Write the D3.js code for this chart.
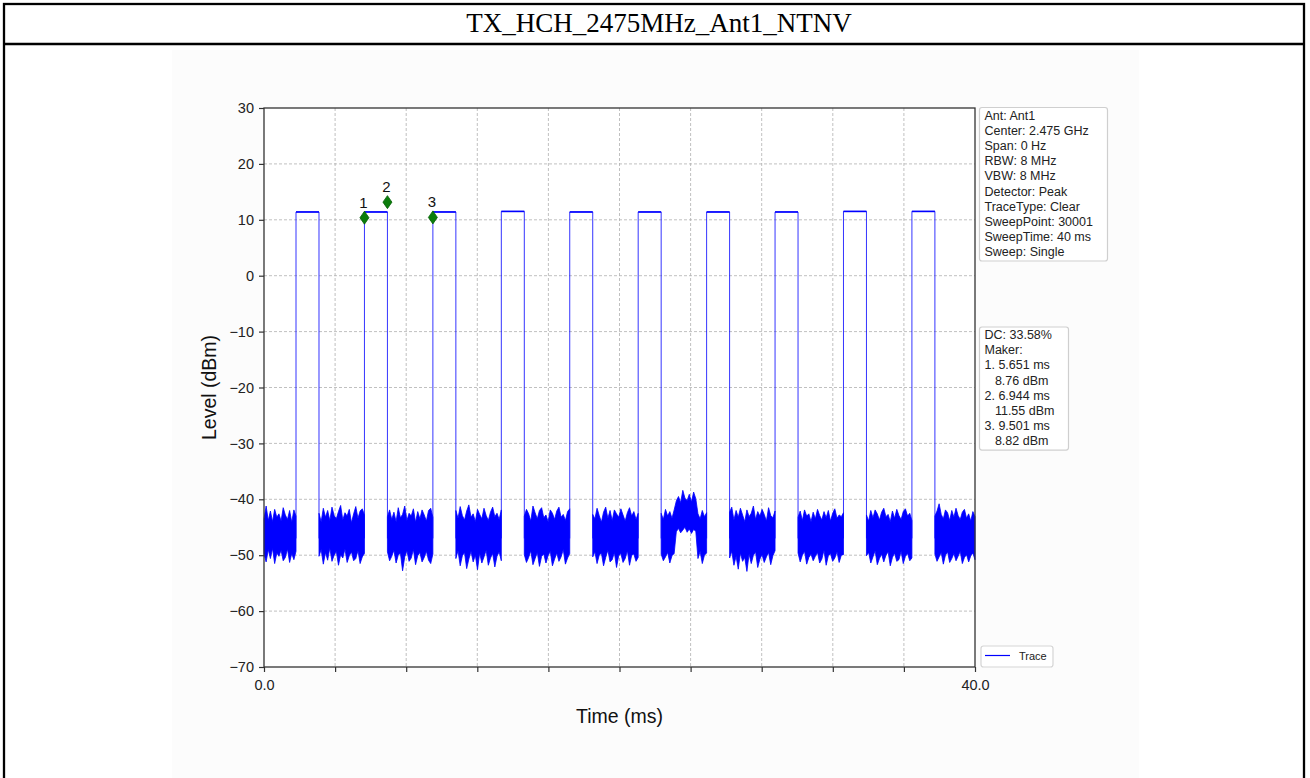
<!DOCTYPE html>
<html>
<head>
<meta charset="utf-8">
<script src="https://cdn.jsdelivr.net/npm/d3@7"></script>
<style>
  body { margin: 0; background: #fff; }
  svg { display: block; }
</style>
</head>
<body>
<script>
// ---- data ----
var chartTitle = "TX_HCH_2475MHz_Ant1_NTNV";
var xTicks = [0, 4, 8, 12, 16, 20, 24, 28, 32, 36, 40];
var xTickLabels = ["0.0", "", "", "", "", "", "", "", "", "", "40.0"];
var yTicks = [-70, -60, -50, -40, -30, -20, -10, 0, 10, 20, 30];

// burst rising edges (ms), burst length (ms), top level (dBm)
var pulseStart = [1.801, 5.651, 9.501, 13.351, 17.201, 21.051, 24.901, 28.751, 32.601, 36.451];
var pulseWidth = 1.293;
var pulseTop = [11.4, 11.4, 11.4, 11.5, 11.4, 11.4, 11.4, 11.4, 11.5, 11.5];

// noise floor envelope between bursts, upper / lower (dBm), one list per gap
var noiseHi = [
  [-43.5,-41.2,-43.8,-42.1,-44.0,-41.8,-43.2,-42.6,-43.9,-41.5,-42.8,-43.6,-42.0,-44.1,-41.9,-43.0],
  [-42.5,-44.0,-41.6,-43.2,-42.0,-43.8,-41.4,-42.9,-43.5,-42.2,-41.1,-43.7,-42.4,-43.0,-41.8,-44.2,-42.6,-41.3,-43.4,-42.1,-41.7,-42.8],
  [-43.1,-41.9,-43.6,-42.3,-44.0,-41.5,-43.3,-42.7,-41.2,-43.8,-42.5,-43.0,-41.7,-44.1,-42.2,-43.5,-41.9,-42.8,-43.9,-42.0,-41.6,-43.2],
  [-42.0,-43.4,-41.3,-42.9,-43.7,-42.1,-41.0,-43.2,-42.6,-44.0,-41.8,-42.7,-43.5,-41.6,-42.9,-43.8,-42.3,-41.4,-43.1,-42.5,-43.6,-41.9],
  [-43.0,-41.8,-42.6,-43.9,-41.2,-42.4,-43.5,-42.0,-41.5,-43.3,-42.8,-44.0,-41.9,-42.5,-43.6,-42.1,-41.4,-43.2,-42.7,-43.8,-42.2,-41.7],
  [-42.7,-43.5,-41.6,-42.9,-44.1,-42.3,-41.4,-43.4,-42.0,-43.8,-41.9,-42.6,-43.2,-41.7,-42.8,-43.9,-42.4,-41.5,-43.0,-42.2,-43.6,-42.5],
  [-42.5,-43.6,-41.8,-43.0,-42.2,-43.4,-41.9,-40.3,-39.5,-40.6,-38.4,-39.8,-40.2,-39.1,-40.5,-38.7,-39.9,-42.6,-43.5,-42.0,-43.1,-42.4],
  [-42.3,-41.4,-43.7,-42.0,-43.2,-41.6,-42.8,-44.0,-41.9,-43.1,-42.5,-41.2,-43.6,-42.2,-43.0,-41.8,-42.7,-43.9,-41.5,-42.9,-43.3,-42.1],
  [-43.2,-42.1,-43.8,-41.9,-43.0,-42.6,-44.0,-42.3,-43.5,-41.8,-42.9,-43.7,-42.2,-43.3,-42.0,-43.9,-42.5,-41.7,-43.4,-42.8,-43.1,-42.4],
  [-42.8,-43.9,-42.0,-43.3,-41.9,-42.6,-43.7,-42.3,-41.6,-43.1,-42.7,-44.0,-42.1,-43.4,-41.8,-42.9,-43.6,-42.2,-41.7,-43.0,-42.5,-43.8],
  [-43.0,-42.1,-40.8,-42.7,-43.5,-41.9,-42.4,-43.8,-42.0,-43.2,-41.6,-42.9,-43.6,-42.3,-41.8,-43.4,-42.6,-43.9,-42.2,-43.1]
];
var noiseLo = [
  [-49.8,-51.2,-49.0,-50.6,-48.8,-51.5,-49.6,-50.2,-49.1,-51.0,-50.4,-48.9,-51.3,-49.7,-50.8,-49.3],
  [-50.2,-49.0,-51.6,-49.5,-50.9,-48.7,-51.1,-50.0,-49.3,-51.8,-49.9,-50.5,-48.9,-51.3,-50.1,-49.4,-51.0,-50.6,-49.2,-51.5,-50.3,-49.7],
  [-49.4,-51.0,-50.2,-49.1,-51.4,-50.0,-49.6,-52.8,-50.3,-49.2,-51.1,-50.5,-49.0,-51.7,-50.1,-49.5,-51.2,-50.4,-49.3,-50.9,-51.5,-49.8],
  [-50.6,-49.2,-51.9,-50.1,-49.5,-52.4,-50.7,-49.3,-51.2,-50.0,-52.6,-49.6,-51.4,-50.3,-49.1,-51.8,-50.5,-49.7,-52.1,-50.2,-49.4,-51.0],
  [-49.9,-51.3,-50.4,-49.2,-51.7,-50.6,-49.5,-52.0,-50.2,-49.8,-51.4,-50.1,-49.3,-51.9,-50.7,-49.6,-51.1,-50.3,-49.0,-51.6,-50.5,-49.7],
  [-50.3,-49.4,-51.5,-50.0,-49.6,-51.9,-50.4,-49.1,-51.2,-50.8,-49.5,-52.2,-50.1,-49.7,-51.3,-50.6,-49.2,-51.8,-50.0,-49.8,-51.1,-50.4],
  [-49.8,-51.0,-50.3,-49.5,-51.4,-50.1,-49.7,-45.8,-45.2,-46.0,-45.5,-45.0,-45.9,-45.3,-46.1,-45.4,-45.7,-50.6,-49.3,-51.5,-50.0,-49.6],
  [-50.5,-49.3,-51.8,-50.2,-52.5,-49.6,-51.1,-50.4,-52.9,-49.8,-51.5,-50.0,-49.4,-52.2,-50.7,-49.9,-51.3,-50.3,-49.5,-51.7,-50.1,-49.2],
  [-49.6,-51.2,-50.0,-49.3,-51.6,-50.4,-49.8,-51.0,-50.2,-49.5,-51.4,-50.7,-49.1,-51.8,-50.1,-49.7,-51.1,-50.5,-49.4,-51.3,-50.0,-49.9],
  [-50.1,-49.5,-51.4,-50.3,-49.2,-51.7,-50.6,-49.8,-51.2,-50.0,-49.4,-51.9,-50.4,-49.6,-51.1,-50.8,-49.3,-51.5,-50.2,-49.7,-51.0,-50.5],
  [-49.8,-51.1,-50.3,-49.5,-51.6,-50.0,-49.4,-51.3,-50.6,-49.7,-51.0,-50.2,-49.3,-51.5,-50.4,-49.9,-51.2,-50.1,-49.6,-50.8]
];

// markers
var markerNames = ["1", "2", "3"];
var markerTime = [5.651, 6.944, 9.501];
var markerLevel = [8.76, 11.55, 8.82];

// info boxes
var settingsText = ["Ant: Ant1", "Center: 2.475 GHz", "Span: 0 Hz", "RBW: 8 MHz", "VBW: 8 MHz",
  "Detector: Peak", "TraceType: Clear", "SweepPoint: 30001", "SweepTime: 40 ms", "Sweep: Single"];
var markerText = ["DC: 33.58%", "Maker:", "1. 5.651 ms", "   8.76 dBm", "2. 6.944 ms",
  "   11.55 dBm", "3. 9.501 ms", "   8.82 dBm"];

// ---- drawing ----
var W = 1310, H = 778;
var pLeft = 264, pRight = 975, pTop = 108, pBottom = 667;
var sans = "'Liberation Sans', Arial, sans-serif";
var blue = "#0000ff";

var svg = d3.select("body").append("svg")
  .attr("width", W)
  .attr("height", H);

// page frame + title
svg.append("rect").attr("x", 172).attr("y", 50).attr("width", 967).attr("height", 740).attr("fill", "#fcfcfc");
svg.append("rect").attr("x", 4).attr("y", 4).attr("width", 1300).attr("height", 800)
  .attr("fill", "none").attr("stroke", "#000").attr("stroke-width", 2.3);
svg.append("line").attr("x1", 4).attr("x2", 1304).attr("y1", 44).attr("y2", 44)
  .attr("stroke", "#000").attr("stroke-width", 2.3);
svg.append("text")
  .attr("x", 659).attr("y", 32)
  .attr("text-anchor", "middle")
  .style("font-family", "'Liberation Serif', 'Times New Roman', serif")
  .style("font-size", "27px")
  .text(chartTitle);

var xScale = d3.scaleLinear().domain([0, 40]).range([pLeft, pRight]);
var yScale = d3.scaleLinear().domain([-70, 30]).range([pBottom, pTop]);

svg.append("rect").attr("x", pLeft).attr("y", pTop)
  .attr("width", pRight - pLeft).attr("height", pBottom - pTop).attr("fill", "#fff");

// grid
svg.append("g").selectAll("line").data(xTicks.slice(1, -1)).enter().append("line")
  .attr("x1", d => xScale(d)).attr("x2", d => xScale(d))
  .attr("y1", pTop).attr("y2", pBottom)
  .attr("stroke", "#b0b0b0").attr("stroke-width", 0.8).attr("stroke-dasharray", "3,2");
svg.append("g").selectAll("line").data(yTicks.slice(1, -1)).enter().append("line")
  .attr("x1", pLeft).attr("x2", pRight)
  .attr("y1", d => yScale(d)).attr("y2", d => yScale(d))
  .attr("stroke", "#b0b0b0").attr("stroke-width", 0.8).attr("stroke-dasharray", "3,2");

// noise floor between bursts
var gaps = [];
for (var i = 0; i <= pulseStart.length; i++) {
  var g0 = i === 0 ? 0 : pulseStart[i - 1] + pulseWidth;
  var g1 = i === pulseStart.length ? 40 : pulseStart[i];
  var pts = noiseHi[i].map(function(v, j) {
    var n = noiseHi[i].length - 1;
    return { t: g0 + (g1 - g0) * j / n, hi: v, lo: noiseLo[i][j] };
  });
  gaps.push(pts);
}

var area = d3.area()
  .x(d => xScale(d.t))
  .y0(d => yScale(d.lo))
  .y1(d => yScale(d.hi));

svg.append("g").selectAll("path").data(gaps).enter().append("path")
  .attr("d", area)
  .attr("fill", blue)
  .attr("stroke", blue)
  .attr("stroke-width", 0.8)
  .attr("stroke-linejoin", "miter");

// bursts
var line = d3.line().x(d => xScale(d[0])).y(d => yScale(d[1]));
var bursts = pulseStart.map(function(s, i) {
  var e = s + pulseWidth;
  return [[s, -47], [s, pulseTop[i]], [e, pulseTop[i]], [e, -47]];
});
svg.append("g").selectAll("path").data(bursts).enter().append("path")
  .attr("d", line)
  .attr("fill", "none")
  .attr("stroke", blue)
  .attr("stroke-width", 0.8);
svg.append("g").selectAll("line").data(pulseStart).enter().append("line")
  .attr("x1", d => xScale(d)).attr("x2", (d) => xScale(d + pulseWidth))
  .attr("y1", (d, i) => yScale(pulseTop[i])).attr("y2", (d, i) => yScale(pulseTop[i]))
  .attr("stroke", blue).attr("stroke-width", 1.6);

// axes
var xAxis = d3.axisBottom(xScale).tickValues(xTicks)
  .tickFormat((d, i) => xTickLabels[i]).tickSize(5).tickSizeOuter(0).tickPadding(8);
var yAxis = d3.axisLeft(yScale).tickValues(yTicks).tickSize(5).tickSizeOuter(0).tickPadding(5);

var gx = svg.append("g").attr("transform", "translate(0," + pBottom + ")").call(xAxis);
var gy = svg.append("g").attr("transform", "translate(" + pLeft + ",0)").call(yAxis);
[gx, gy].forEach(function(g) {
  g.select(".domain").remove();
  g.selectAll(".tick line").attr("stroke", "#333").attr("stroke-width", 1.2);
  g.selectAll("text").attr("fill", "#222").style("font-family", sans).style("font-size", "14.5px");
});

// frame
svg.append("rect").attr("x", pLeft).attr("y", pTop)
  .attr("width", pRight - pLeft).attr("height", pBottom - pTop)
  .attr("fill", "none").attr("stroke", "#333").attr("stroke-width", 1.3);

svg.append("text")
  .attr("x", (pLeft + pRight) / 2).attr("y", 723)
  .attr("text-anchor", "middle")
  .style("font-family", sans).style("font-size", "19.5px").attr("fill", "#111")
  .text("Time (ms)");
svg.append("text")
  .attr("transform", "translate(216," + ((pTop + pBottom) / 2) + ") rotate(-90)")
  .attr("text-anchor", "middle")
  .style("font-family", sans).style("font-size", "19.5px").attr("fill", "#111")
  .text("Level (dBm)");

// markers (drawn a little above their level, as in the source)
var mk = svg.append("g").selectAll("g").data(markerTime).enter().append("g")
  .attr("transform", (d, i) => "translate(" + xScale(d) + "," + (yScale(markerLevel[i]) - 9) + ")");
mk.append("path")
  .attr("d", "M0,-6.5L4.5,0L0,6.5L-4.5,0Z")
  .attr("fill", "#0b7d0b").attr("stroke", "#056105").attr("stroke-width", 0.8);
mk.append("text")
  .attr("y", -10).attr("x", -1)
  .attr("text-anchor", "middle")
  .style("font-family", sans).style("font-size", "15px").attr("fill", "#111")
  .text((d, i) => markerNames[i]);

// info boxes
function infoBox(lines, x, y, w) {
  var h = lines.length * 15.2 + 1.5;
  svg.append("rect").attr("x", x).attr("y", y).attr("width", w).attr("height", h)
    .attr("rx", 2.5).attr("fill", "#fff").attr("stroke", "#cfcfcf").attr("stroke-width", 1.2);
  svg.append("g").selectAll("text").data(lines).enter().append("text")
    .attr("x", x + 5).attr("y", (d, i) => y + 12 + i * 15.2)
    .attr("xml:space", "preserve")
    .style("white-space", "pre")
    .style("font-family", sans).style("font-size", "12.5px").attr("fill", "#222")
    .text(d => d);
}
infoBox(settingsText, 979.5, 107.5, 128);
infoBox(markerText, 979.5, 327, 89);

// legend
svg.append("rect").attr("x", 981).attr("y", 646).attr("width", 72).attr("height", 21)
  .attr("rx", 2.5).attr("fill", "#fff").attr("stroke", "#d5d5d5").attr("stroke-width", 1.2);
svg.append("line").attr("x1", 985).attr("x2", 1010).attr("y1", 655.5).attr("y2", 655.5)
  .attr("stroke", blue).attr("stroke-width", 1.2);
svg.append("text").attr("x", 1019).attr("y", 660)
  .style("font-family", sans).style("font-size", "11px").attr("fill", "#222")
  .text("Trace");
</script>
</body>
</html>
